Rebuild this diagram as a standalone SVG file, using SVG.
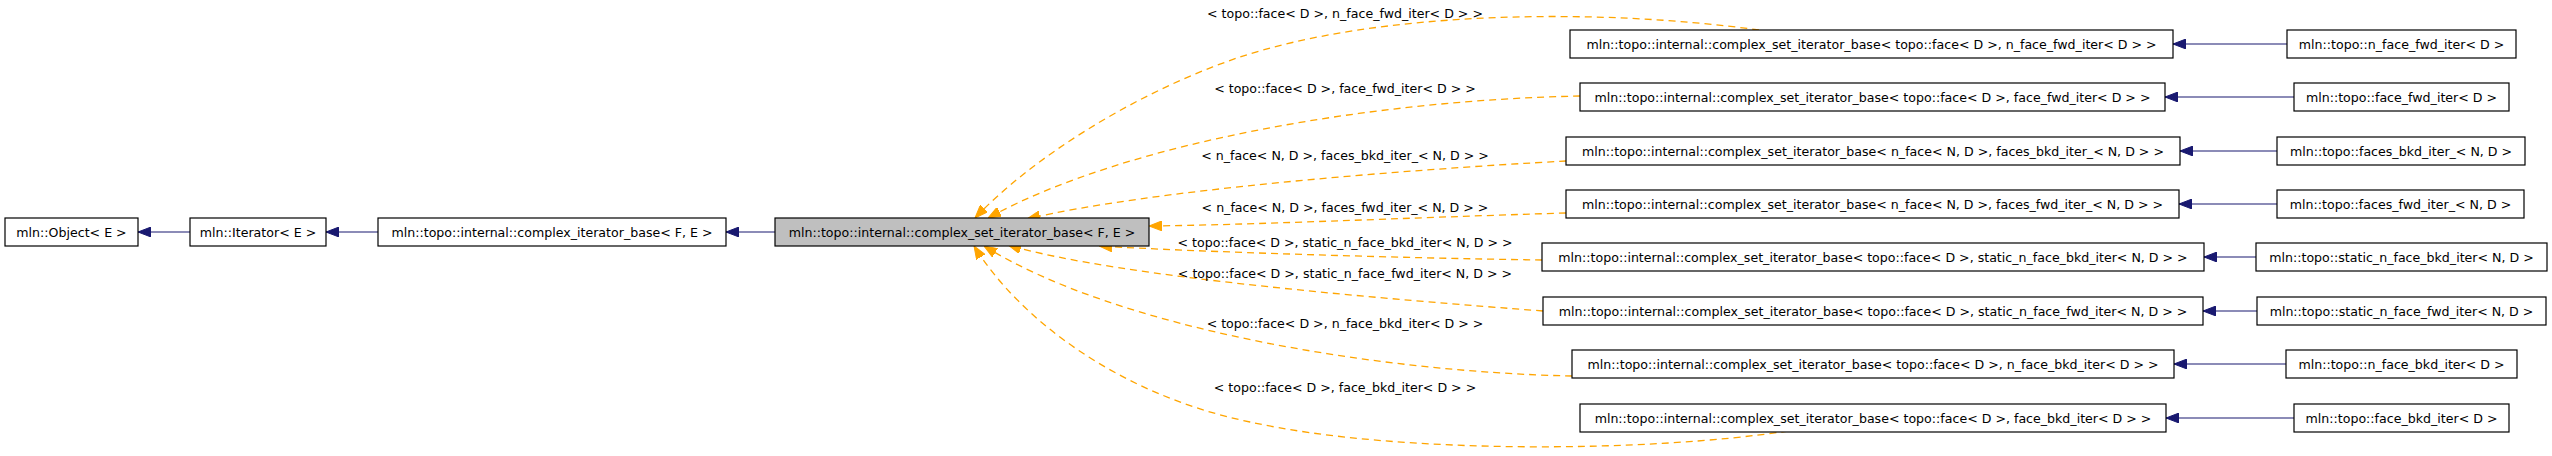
<svg xmlns="http://www.w3.org/2000/svg" width="2552" height="456" viewBox="0 0 2552 456">
<style>
text { font-family: "DejaVu Sans", "Liberation Sans", sans-serif; font-size: 12.6px; fill: #000; text-anchor: middle; }
.box { fill: #fff; stroke: #000; stroke-width: 1.2; }
.cur { fill: #bfbfbf; stroke: #000; stroke-width: 1.2; }
.inh { fill: none; stroke: #191970; stroke-width: 1.2; marker-end: url(#ab); }
.tpl { fill: none; stroke: #ffa500; stroke-width: 1.3; stroke-dasharray: 7,5; marker-end: url(#ao); }
</style>
<defs>
<marker id="ab" viewBox="0 0 13 10" refX="13" refY="5" markerWidth="13" markerHeight="10" markerUnits="userSpaceOnUse" orient="auto">
<path d="M0,0 L13,5 L0,10 z" fill="#191970" stroke="#191970" stroke-width="1"/>
</marker>
<marker id="ao" viewBox="0 0 13 10" refX="13" refY="5" markerWidth="13" markerHeight="10" markerUnits="userSpaceOnUse" orient="auto">
<path d="M0,0 L13,5 L0,10 z" fill="#ffa500" stroke="#ffa500" stroke-width="1"/>
</marker>
</defs>
<rect width="2552" height="456" fill="#fff"/>
<g id="connectors">
<path class="inh" d="M190,232 L138,232"/>
<path class="inh" d="M378,232 L326,232"/>
<path class="inh" d="M775,232 L726,232"/>
<path class="inh" d="M2287,44 L2173,44"/>
<path class="inh" d="M2294,97 L2165,97"/>
<path class="inh" d="M2277,151 L2180,151"/>
<path class="inh" d="M2277,204 L2179,204"/>
<path class="inh" d="M2256,257 L2204,257"/>
<path class="inh" d="M2257,311 L2203,311"/>
<path class="inh" d="M2286,364 L2174,364"/>
<path class="inh" d="M2294,418 L2166,418"/>
<path class="tpl" d="M1759,30 C1600,8 1380,10 1237,58 C1130,95 1030,160 975,218"/>
<path class="tpl" d="M1580,96 C1380,100 1130,140 988,218"/>
<path class="tpl" d="M1566,161 C1400,170 1150,190 1027,219"/>
<path class="tpl" d="M1566,213 C1400,218 1250,225 1149,226"/>
<path class="tpl" d="M1542,260 C1400,258 1200,252 1099,246"/>
<path class="tpl" d="M1543,311 C1400,300 1120,278 1008,245"/>
<path class="tpl" d="M1572,376 C1380,372 1120,330 984,246"/>
<path class="tpl" d="M1788,431 C1650,452 1400,455 1250,422 C1120,395 1020,320 974,246"/>
<text x="1345" y="17.5">&lt; topo::face&lt; D &gt;, n_face_fwd_iter&lt; D &gt; &gt;</text>
<text x="1345" y="92.5">&lt; topo::face&lt; D &gt;, face_fwd_iter&lt; D &gt; &gt;</text>
<text x="1345" y="159.5">&lt; n_face&lt; N, D &gt;, faces_bkd_iter_&lt; N, D &gt; &gt;</text>
<text x="1345" y="211.5">&lt; n_face&lt; N, D &gt;, faces_fwd_iter_&lt; N, D &gt; &gt;</text>
<text x="1345" y="246.5">&lt; topo::face&lt; D &gt;, static_n_face_bkd_iter&lt; N, D &gt; &gt;</text>
<text x="1345" y="277.5">&lt; topo::face&lt; D &gt;, static_n_face_fwd_iter&lt; N, D &gt; &gt;</text>
<text x="1345" y="327.5">&lt; topo::face&lt; D &gt;, n_face_bkd_iter&lt; D &gt; &gt;</text>
<text x="1345" y="391.5">&lt; topo::face&lt; D &gt;, face_bkd_iter&lt; D &gt; &gt;</text>
</g>
<g id="n_object"><rect class="box" x="5" y="218" width="133" height="28"/><text x="71.5" y="236.5">mln::Object&lt; E &gt;</text></g>
<g id="n_iterator"><rect class="box" x="190" y="218" width="136" height="28"/><text x="258" y="236.5">mln::Iterator&lt; E &gt;</text></g>
<g id="n_cib"><rect class="box" x="378" y="218" width="348" height="28"/><text x="552" y="236.5">mln::topo::internal::complex_iterator_base&lt; F, E &gt;</text></g>
<g id="n_csib"><rect class="cur" x="775" y="218" width="374" height="28"/><text x="962" y="236.5">mln::topo::internal::complex_set_iterator_base&lt; F, E &gt;</text></g>
<g id="m1"><rect class="box" x="1570" y="30" width="603" height="28"/><text x="1871.5" y="48.5">mln::topo::internal::complex_set_iterator_base&lt; topo::face&lt; D &gt;, n_face_fwd_iter&lt; D &gt; &gt;</text></g>
<g id="m2"><rect class="box" x="1580" y="83" width="585" height="28"/><text x="1872.5" y="101.5">mln::topo::internal::complex_set_iterator_base&lt; topo::face&lt; D &gt;, face_fwd_iter&lt; D &gt; &gt;</text></g>
<g id="m3"><rect class="box" x="1566" y="137" width="614" height="28"/><text x="1873" y="155.5">mln::topo::internal::complex_set_iterator_base&lt; n_face&lt; N, D &gt;, faces_bkd_iter_&lt; N, D &gt; &gt;</text></g>
<g id="m4"><rect class="box" x="1566" y="190" width="613" height="28"/><text x="1872.5" y="208.5">mln::topo::internal::complex_set_iterator_base&lt; n_face&lt; N, D &gt;, faces_fwd_iter_&lt; N, D &gt; &gt;</text></g>
<g id="m5"><rect class="box" x="1542" y="243" width="662" height="28"/><text x="1873" y="261.5">mln::topo::internal::complex_set_iterator_base&lt; topo::face&lt; D &gt;, static_n_face_bkd_iter&lt; N, D &gt; &gt;</text></g>
<g id="m6"><rect class="box" x="1543" y="297" width="660" height="28"/><text x="1873" y="315.5">mln::topo::internal::complex_set_iterator_base&lt; topo::face&lt; D &gt;, static_n_face_fwd_iter&lt; N, D &gt; &gt;</text></g>
<g id="m7"><rect class="box" x="1572" y="350" width="602" height="28"/><text x="1873" y="368.5">mln::topo::internal::complex_set_iterator_base&lt; topo::face&lt; D &gt;, n_face_bkd_iter&lt; D &gt; &gt;</text></g>
<g id="m8"><rect class="box" x="1580" y="404" width="586" height="28"/><text x="1873" y="422.5">mln::topo::internal::complex_set_iterator_base&lt; topo::face&lt; D &gt;, face_bkd_iter&lt; D &gt; &gt;</text></g>
<g id="r1"><rect class="box" x="2287" y="30" width="229" height="28"/><text x="2401.5" y="48.5">mln::topo::n_face_fwd_iter&lt; D &gt;</text></g>
<g id="r2"><rect class="box" x="2294" y="83" width="215" height="28"/><text x="2401.5" y="101.5">mln::topo::face_fwd_iter&lt; D &gt;</text></g>
<g id="r3"><rect class="box" x="2277" y="137" width="248" height="28"/><text x="2401" y="155.5">mln::topo::faces_bkd_iter_&lt; N, D &gt;</text></g>
<g id="r4"><rect class="box" x="2277" y="190" width="247" height="28"/><text x="2400.5" y="208.5">mln::topo::faces_fwd_iter_&lt; N, D &gt;</text></g>
<g id="r5"><rect class="box" x="2256" y="243" width="291" height="28"/><text x="2401.5" y="261.5">mln::topo::static_n_face_bkd_iter&lt; N, D &gt;</text></g>
<g id="r6"><rect class="box" x="2257" y="297" width="289" height="28"/><text x="2401.5" y="315.5">mln::topo::static_n_face_fwd_iter&lt; N, D &gt;</text></g>
<g id="r7"><rect class="box" x="2286" y="350" width="231" height="28"/><text x="2401.5" y="368.5">mln::topo::n_face_bkd_iter&lt; D &gt;</text></g>
<g id="r8"><rect class="box" x="2294" y="404" width="215" height="28"/><text x="2401.5" y="422.5">mln::topo::face_bkd_iter&lt; D &gt;</text></g>
</svg>
